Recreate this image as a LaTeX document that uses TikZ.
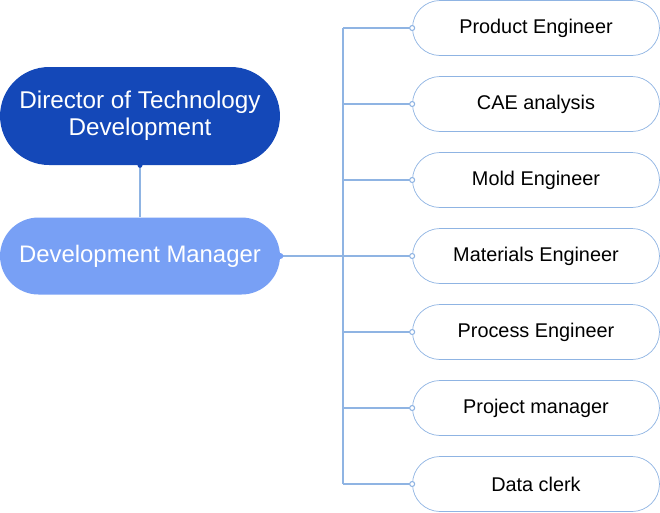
\documentclass[tikz,border=0pt]{standalone}
\usepackage{fontspec}
\setmainfont{Liberation Sans}
\usetikzlibrary{positioning}
\definecolor{darkBlue}{HTML}{1448B8}
\definecolor{lightBlue}{HTML}{78A0F5}
\definecolor{lineBlue}{HTML}{8FB4E3}
\begin{document}
\begin{tikzpicture}[x=0.02cm, y=-0.02cm,
	head/.style={rounded corners=0.98cm, minimum width=5.6cm, minimum height=1.96cm, fill=darkBlue, text=white, align=center, font=\fontsize{13.8}{15.5}\selectfont, inner sep=0pt},
	manager/.style={rounded corners=0.77cm, minimum width=5.6cm, minimum height=1.54cm, fill=lightBlue, text=white, font=\fontsize{13.6}{16}\selectfont, inner sep=0pt},
	staff/.style={draw=lineBlue, fill=white, rounded corners=0.55cm, minimum width=4.94cm, minimum height=1.1cm, font=\fontsize{11.3}{13}\selectfont, inner sep=0pt},
	link/.style={lineBlue, line width=0.6pt}
	]
	\useasboundingbox (0,0) rectangle (660,512);
	
	\node[head] (D) at (140,116) {Director of Technology\\Development};
	\node[manager] (M) at (140,256) {Development Manager};
	\draw[link] (D.south) -- (M.north);
	\fill[darkBlue] (D.south) circle (2.5);
	
	\coordinate (J) at (343,256);
	\draw[link] (M.east) -- (J);
	\fill[lightBlue] (M.east) circle (3);
	
	\foreach \name [count=\i from 0] in {Product Engineer, CAE analysis, Mold Engineer, Materials Engineer, Process Engineer, Project manager, Data clerk} {
		\node[staff] (S\i) at (536,{28+76*\i}) {\name};
		\coordinate (B\i) at (343,{28+76*\i});
		\draw[link] (B\i) -- (S\i.west);
		\draw[link, fill=white] (S\i.west) circle (2.5);
	}
	\draw[link] (B0) -- (B6);
\end{tikzpicture}
\end{document}
